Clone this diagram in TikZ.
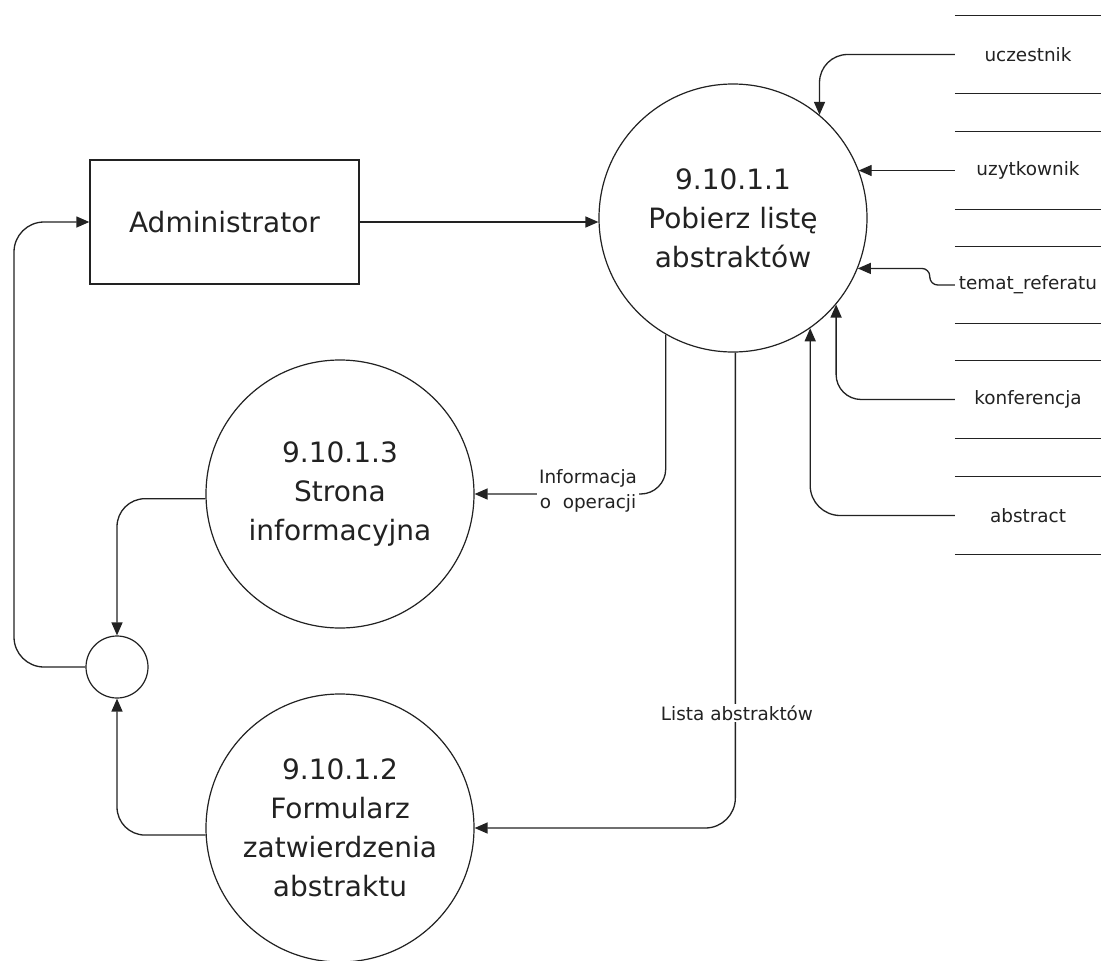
\documentclass[tikz,border=0pt]{standalone}
\usepackage{fontspec}
\setmainfont{DejaVu Sans}
\usetikzlibrary{arrows.meta,calc}
\definecolor{ink}{HTML}{222222}
\begin{document}
\begin{tikzpicture}[x=1pt,y=-1pt,
  every node/.style={text=ink},
  proc/.style={circle,draw=ink,line width=1.2pt,minimum size=268pt,inner sep=0pt,align=center,font=\fontsize{28}{39}\selectfont},
  ext/.style={rectangle,draw=ink,line width=1.3pt,minimum width=269pt,minimum height=124pt,inner sep=0pt,font=\fontsize{28}{34}\selectfont},
  junction/.style={circle,draw=ink,line width=1.2pt,minimum size=62pt,inner sep=0pt},
  store/.style={minimum width=146pt,minimum height=77pt,inner sep=0pt,font=\fontsize{18.4}{22}\selectfont},
  storeline/.style={draw=ink,line width=1.3pt},
  flow/.style={draw=ink,line width=1.3pt,-{Triangle[length=13pt,width=11pt]}},
  lbl/.style={fill=white,inner sep=2pt,align=center,font=\fontsize{18.4}{25}\selectfont}]

\useasboundingbox[fill=white] (0,0) rectangle (1101,961);

% processes
\node[proc] (c1) at (733,218) {9.10.1.1\\Pobierz listę\\abstraktów};
\node[proc] (c3) at (340,494) {9.10.1.3\\Strona\\informacyjna};
\node[proc] (c2) at (340,828) {9.10.1.2\\Formularz\\zatwierdzenia\\abstraktu};
\node[junction] (sm) at (117,667) {};

% external entity
\node[ext] (adm) at (224.5,222) {Administrator};

% data stores
\node[store] (s1) at (1028,54.5) {uczestnik};
\node[store] (s2) at (1028,170.5) {uzytkownik};
\node[store] (s3) at (1028,285) {temat\_referatu};
\node[store] (s4) at (1028,399.5) {konferencja};
\node[store] (s5) at (1028,515.5) {abstract};
\foreach \s in {s1,s2,s3,s4,s5}{
  \draw[storeline] (\s.north west) -- (\s.north east);
  \draw[storeline] (\s.south west) -- (\s.south east);
}

% flows from stores
\draw[flow,rounded corners=28pt] (s1.west) -| (c1.50.7);
\draw[flow] (s2.west) -- (s2.west -| c1.21);
\draw[flow,rounded corners=8pt] (s3.west) -- ++(-25,0) |- (c1.338);
\draw[flow,rounded corners=25pt] (s4.west) -| (c1.320.9);
\draw[flow,rounded corners=30pt] (s5.west) -| (c1.305.6);

% administrator to process
\draw[flow] (adm.east) -- (adm.east -| c1.west);

% process 1 outputs
\draw[flow,rounded corners=25pt] (c1.240.5) |- (c3.east);
\node[lbl] (l1) at (588,491) {Informacja\\o\ \ operacji};
\draw[flow,rounded corners=30pt] (c1.271.7) |- (c2.east);
\node[lbl] (l2) at (737,713) {Lista abstraktów};

% into junction
\draw[flow,rounded corners=28pt] (c3.182.6) -| (sm.north);
\draw[flow,rounded corners=28pt] (c2.183) -| (sm.south);

% feedback to administrator
\coordinate (fb) at (14,222);
\draw[flow,rounded corners=30pt] (sm.west) -| (fb) -- (adm.west);
\end{tikzpicture}
\end{document}
